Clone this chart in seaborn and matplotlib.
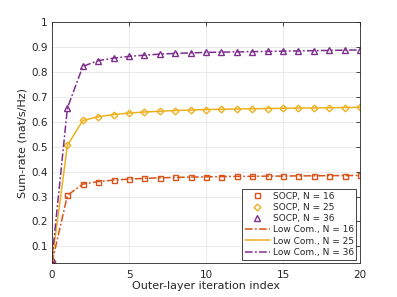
import numpy as np
import pandas as pd
import matplotlib
matplotlib.use("Agg")
import matplotlib.pyplot as plt
import seaborn as sns

iters = list(range(0, 21))
socp_16 = [0.035, 0.305, 0.350, 0.360, 0.366, 0.370, 0.373, 0.375, 0.377, 0.378, 0.379,
           0.380, 0.381, 0.381, 0.382, 0.382, 0.383, 0.383, 0.384, 0.384, 0.385]
socp_25 = [0.040, 0.505, 0.605, 0.620, 0.629, 0.635, 0.639, 0.642, 0.645, 0.647, 0.649,
           0.650, 0.651, 0.652, 0.653, 0.654, 0.655, 0.655, 0.656, 0.657, 0.658]
socp_36 = [0.050, 0.655, 0.822, 0.845, 0.855, 0.862, 0.867, 0.871, 0.874, 0.876, 0.878,
           0.879, 0.880, 0.881, 0.882, 0.883, 0.884, 0.885, 0.886, 0.887, 0.888]
lowcom_16 = socp_16
lowcom_25 = socp_25
lowcom_36 = socp_36

names_socp = ["SOCP, N = 16", "SOCP, N = 25", "SOCP, N = 36"]
names_low = ["Low Com., N = 16", "Low Com., N = 25", "Low Com., N = 36"]
colors = ["#D95319", "#EDB120", "#7E2F8E"]
markers = ["s", "D", "^"]
msizes = [3.6, 3.4, 4.6]
styles = [(0, (5, 1.5, 1.2, 1.5)), "-", (0, (5, 1.5, 1.2, 1.5))]

sns.set_style("whitegrid")
plt.rcParams['font.family'] = ['DejaVu Sans']

fig = plt.figure(figsize=(3.97, 2.97), dpi=100)
ax = fig.add_axes([0.131, 0.114, 0.776, 0.812])

socp = [socp_16, socp_25, socp_36]
low = [lowcom_16, lowcom_25, lowcom_36]

for i in range(3):
    df = pd.DataFrame({"x": iters, "y": socp[i]})
    sns.lineplot(data=df, x="x", y="y", ax=ax, linestyle="none", marker=markers[i],
                 markersize=msizes[i], markerfacecolor="none",
                 markeredgecolor=colors[i], markeredgewidth=1.0, color=colors[i],
                 label=names_socp[i])
for i in range(3):
    df = pd.DataFrame({"x": iters, "y": low[i]})
    sns.lineplot(data=df, x="x", y="y", ax=ax, color=colors[i], linewidth=1.1,
                 linestyle=styles[i], label=names_low[i])

ax.set_xlim(0, 20)
ax.set_ylim(0.033, 1.0)
ax.set_xticks([0, 5, 10, 15, 20])
ax.set_yticks([0.1, 0.2, 0.3, 0.4, 0.5, 0.6, 0.7, 0.8, 0.9, 1.0])
ax.set_yticklabels(["0.1", "0.2", "0.3", "0.4", "0.5", "0.6", "0.7", "0.8", "0.9", "1"])
ax.set_xlabel("Outer-layer iteration index", fontsize=8, color="#262626", labelpad=1)
ax.set_ylabel("Sum-rate (nat/s/Hz)", fontsize=8, color="#262626", labelpad=3)
ax.tick_params(axis="both", labelsize=7.5, colors="#262626", direction="in",
               length=3, width=0.6, top=True, right=True)
ax.tick_params(axis="x", pad=5)
ax.tick_params(axis="y", pad=3)
ax.grid(True, color="#e6e6e6", linewidth=0.6)
for s in ax.spines.values():
    s.set_visible(True)
    s.set_color("#262626")
    s.set_linewidth(0.6)

leg = ax.legend(loc="lower right", fontsize=6.5, frameon=True, fancybox=False,
                edgecolor="#262626", framealpha=1, borderpad=0.3, labelspacing=0.25,
                handlelength=2.8, handletextpad=0.3, borderaxespad=0.4)
leg.get_frame().set_linewidth(0.6)

fig.savefig("out.png", dpi=100)
